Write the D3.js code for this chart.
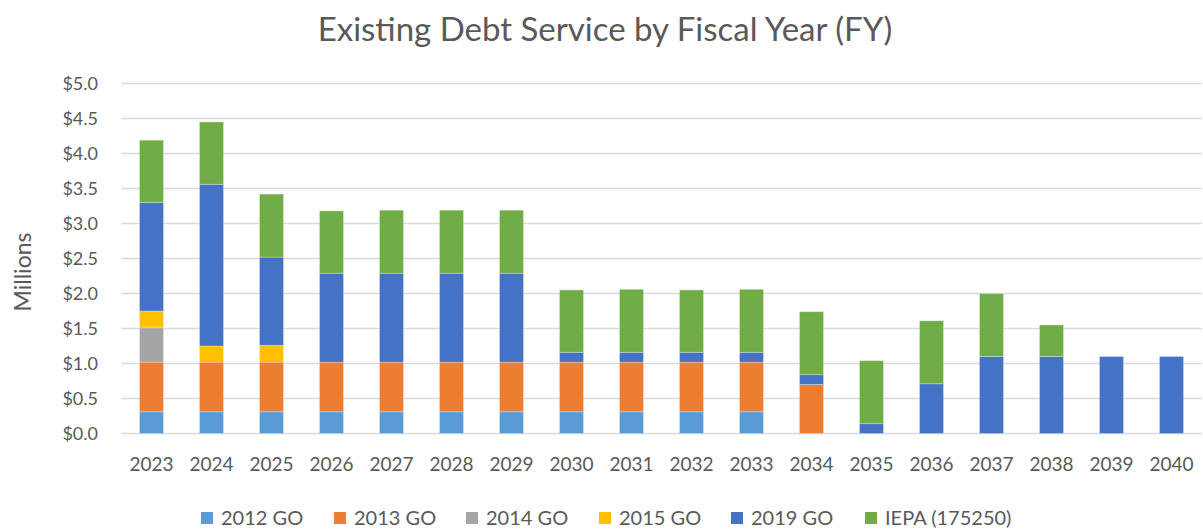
<!DOCTYPE html>
<html>
<head>
<meta charset="utf-8">
<script src="https://cdn.jsdelivr.net/npm/d3@7"></script>
<style>
  html, body { margin: 0; padding: 0; background: #fff; }
  svg { display: block; font-family: Lato, "Open Sans", sans-serif; }
</style>
</head>
<body>
<svg id="chart" width="1203" height="529"></svg>
<script>
// Fiscal years and debt service per issue (millions of dollars)
const years = ["2023","2024","2025","2026","2027","2028","2029","2030","2031","2032","2033","2034","2035","2036","2037","2038","2039","2040"];
const go2012 = [0.31,0.31,0.31,0.31,0.31,0.31,0.31,0.31,0.31,0.31,0.31,0,0,0,0,0,0,0];
const go2013 = [0.71,0.71,0.71,0.71,0.71,0.71,0.71,0.71,0.71,0.71,0.71,0.70,0,0,0,0,0,0];
const go2014 = [0.49,0,0,0,0,0,0,0,0,0,0,0,0,0,0,0,0,0];
const go2015 = [0.24,0.23,0.24,0,0,0,0,0,0,0,0,0,0,0,0,0,0,0];
const go2019 = [1.55,2.31,1.26,1.27,1.27,1.27,1.27,0.14,0.14,0.14,0.14,0.14,0.14,0.71,1.10,1.10,1.10,1.10];
const iepa   = [0.89,0.89,0.90,0.89,0.90,0.90,0.90,0.89,0.90,0.89,0.90,0.90,0.90,0.90,0.90,0.45,0,0];
const seriesNames = ["2012 GO","2013 GO","2014 GO","2015 GO","2019 GO","IEPA (175250)"];
const seriesColors = ["#5B9BD5","#ED7D31","#A5A5A5","#FFC000","#4472C4","#70AD47"];
const yTicks = [0,0.5,1,1.5,2,2.5,3,3.5,4,4.5,5];

const seriesValues = [go2012, go2013, go2014, go2015, go2019, iepa];
const keys = seriesNames;
const rows = years.map((yr, i) => {
  const r = { year: yr };
  keys.forEach((k, j) => { r[k] = seriesValues[j][i]; });
  return r;
});
const stacked = d3.stack().keys(keys)(rows);

const svg = d3.select("#chart");
const textColor = "#595959";

const x = d3.scaleBand().domain(years).range([121.5, 1201.5]).paddingInner(0.6).paddingOuter(0.3);
const y = d3.scaleLinear().domain([0, 5]).range([433.5, 83.5]);

// Horizontal gridlines
svg.append("g")
  .selectAll("line")
  .data(yTicks)
  .join("line")
  .attr("x1", 121.5).attr("x2", 1201.5)
  .attr("y1", d => y(d)).attr("y2", d => y(d))
  .attr("stroke", "#d9d9d9").attr("stroke-width", 1.5);

// Y axis labels
const yAxis = d3.axisLeft(y).tickValues(yTicks).tickSize(0).tickPadding(0)
  .tickFormat(d => "$" + d3.format(".1f")(d));
svg.append("g")
  .attr("transform", "translate(98,0)")
  .call(yAxis)
  .call(g => g.select(".domain").remove())
  .call(g => g.selectAll("text")
    .attr("fill", textColor).style("font-size", "18px").style("font-family", "Lato, sans-serif"));

// Stacked bars
svg.append("g")
  .selectAll("g")
  .data(stacked)
  .join("g")
  .attr("fill", (d, i) => seriesColors[i])
  .selectAll("rect")
  .data(d => d.filter(p => p[1] - p[0] > 0))
  .join("rect")
  .attr("x", d => x(d.data.year))
  .attr("width", x.bandwidth())
  .attr("y", d => y(d[1]))
  .attr("height", d => y(d[0]) - y(d[1]))
  .attr("stroke", "#ffffff").attr("stroke-opacity", 0.35).attr("stroke-width", 0.8);

// X axis labels
const xAxis = d3.axisBottom(x).tickSize(0).tickPadding(0);
svg.append("g")
  .attr("transform", "translate(0,457)")
  .call(xAxis)
  .call(g => g.select(".domain").remove())
  .call(g => g.selectAll("text")
    .attr("fill", textColor).style("font-size", "19px").style("font-family", "Lato, sans-serif"));

// Title
svg.append("text")
  .attr("x", 605).attr("y", 41)
  .attr("text-anchor", "middle")
  .attr("fill", textColor)
  .style("font-size", "33px")
  .text("Existing Debt Service by Fiscal Year (FY)");

// Y axis title
svg.append("text")
  .attr("transform", "translate(31,272) rotate(-90)")
  .attr("text-anchor", "middle")
  .attr("fill", textColor)
  .style("font-size", "23px")
  .text("Millions");

// Legend
const legendX = [201, 334, 466, 599, 731, 865];
const legend = svg.append("g")
  .selectAll("g")
  .data(seriesNames)
  .join("g")
  .attr("transform", (d, i) => `translate(${legendX[i]},512)`);
legend.append("rect")
  .attr("width", 12).attr("height", 12)
  .attr("fill", (d, i) => seriesColors[i]);
legend.append("text")
  .attr("x", 20).attr("y", 12.5)
  .attr("fill", textColor)
  .style("font-size", "20px")
  .text(d => d);
</script>
</body>
</html>
